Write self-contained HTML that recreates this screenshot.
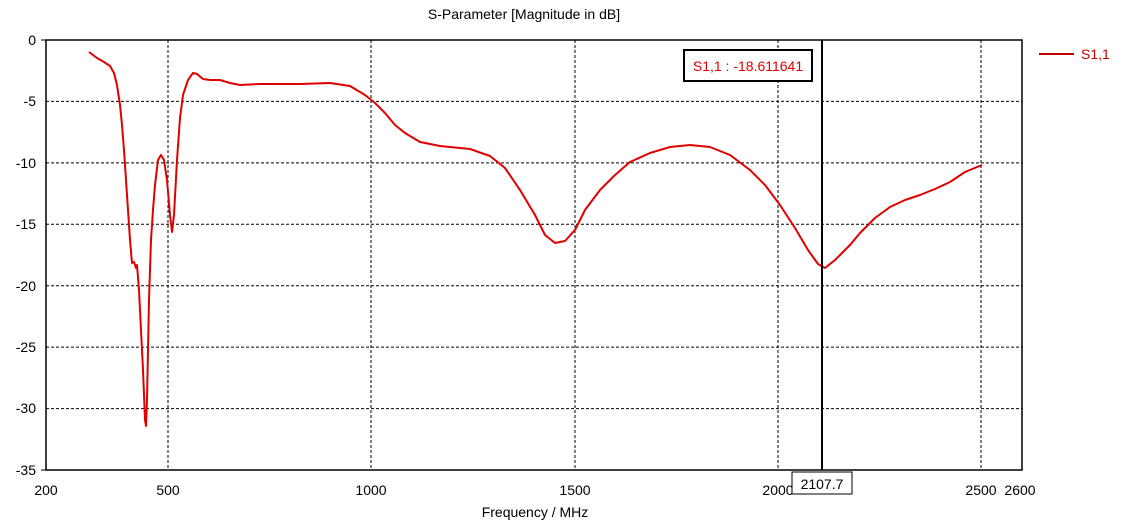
<!DOCTYPE html>
<html><head><meta charset="utf-8"><style>
body{margin:0;background:#fff;}
svg text{font-family:"Liberation Sans",sans-serif;font-size:14px;fill:#000;}
</style></head><body>
<svg width="1140" height="523" xmlns="http://www.w3.org/2000/svg">
<rect width="1140" height="523" fill="#fff"/>
<text x="524" y="19" text-anchor="middle">S-Parameter [Magnitude in dB]</text>
<g stroke="#000" stroke-dasharray="3,2" stroke-width="1">
<line x1="168" y1="40" x2="168" y2="470"/><line x1="371" y1="40" x2="371" y2="470"/>
<line x1="575" y1="40" x2="575" y2="470"/><line x1="778" y1="40" x2="778" y2="470"/>
<line x1="981" y1="40" x2="981" y2="470"/>
<line x1="46" y1="101.4" x2="1022" y2="101.4"/><line x1="46" y1="162.9" x2="1022" y2="162.9"/>
<line x1="46" y1="224.3" x2="1022" y2="224.3"/><line x1="46" y1="285.7" x2="1022" y2="285.7"/>
<line x1="46" y1="347.1" x2="1022" y2="347.1"/><line x1="46" y1="408.6" x2="1022" y2="408.6"/>
</g>
<rect x="46" y="40" width="976" height="430" fill="none" stroke="#000" stroke-width="1.5"/>
<g stroke="#000"><line x1="41" y1="40" x2="46" y2="40"/><line x1="41" y1="470" x2="46" y2="470"/></g>
<g text-anchor="end">
<text x="36" y="45">0</text><text x="36" y="106">-5</text><text x="36" y="168">-10</text>
<text x="36" y="229">-15</text><text x="36" y="291">-20</text><text x="36" y="352">-25</text>
<text x="36" y="413">-30</text><text x="36" y="475">-35</text></g>
<g text-anchor="middle">
<text x="46" y="495">200</text><text x="168" y="495">500</text><text x="371" y="495">1000</text>
<text x="575" y="495">1500</text><text x="778" y="495">2000</text><text x="981" y="495">2500</text><text x="1020" y="495">2600</text>
<text x="535" y="517">Frequency / MHz</text></g>
<polyline fill="none" stroke="#e00000" stroke-width="2" stroke-linejoin="round" points="89,52 97,58 104,62 110,66 114,73 117,85 120,105 122,125 124,150 126,180 128,210 130,240 132,263 134,262 136,268 137,265 139,290 141,330 143,370 145,420 146,426 147,400 149,300 151,240 153,210 155,185 158,160 161,155 164,160 167,180 170,215 172,232 174,215 177,160 180,118 183,95 188,80 193,73 197,74 203,79 210,80 220,80 230,83 240,85 260,84 300,84 330,83 350,86 365,95 375,103 385,113 395,125 405,133 420,142 440,146 470,149 490,156 505,168 520,190 535,215 545,235 555,243 565,241 575,230 585,210 600,190 615,175 630,162 650,153 670,147 690,145 710,147 730,155 750,170 765,185 780,205 795,228 808,250 818,264 825,268 835,260 850,245 860,233 875,218 890,207 905,200 920,195 935,189 950,182 965,172 982,165"/>
<line x1="822" y1="40" x2="822" y2="470" stroke="#000" stroke-width="2"/>
<rect x="684" y="50" width="128" height="31" fill="#fff" stroke="#000" stroke-width="2"/>
<text x="748" y="71" text-anchor="middle" style="fill:#e00000">S1,1 : -18.611641</text>
<rect x="792" y="472" width="60" height="22" fill="#fff" stroke="#000"/>
<text x="822" y="489" text-anchor="middle">2107.7</text>
<line x1="1039" y1="54" x2="1074" y2="54" stroke="#c00000" stroke-width="2"/>
<text x="1081" y="59" style="fill:#c00000">S1,1</text>
</svg>
</body></html>
